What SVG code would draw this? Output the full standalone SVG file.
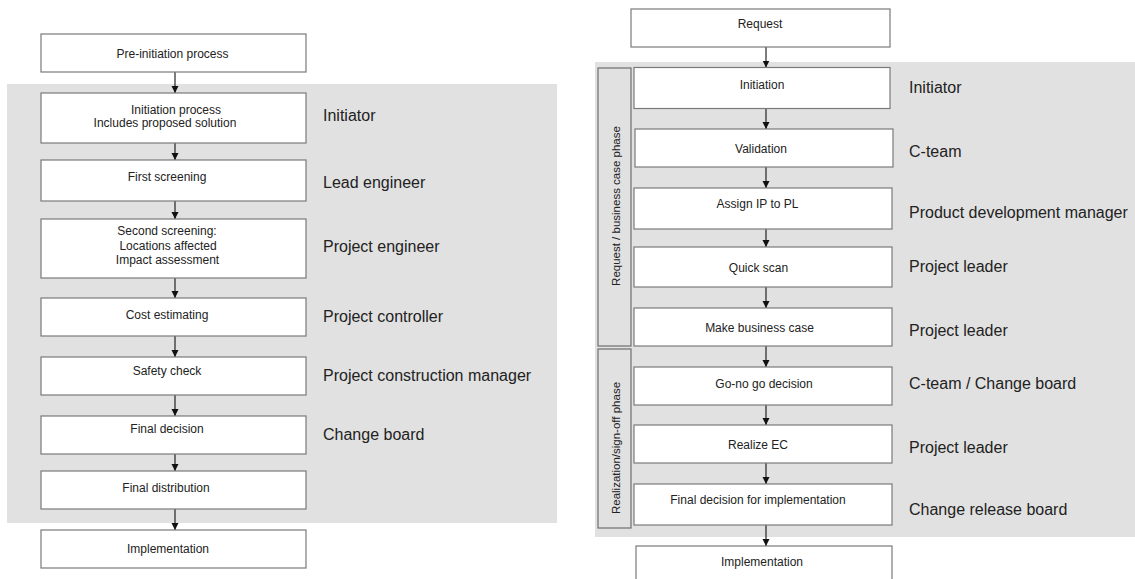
<svg xmlns="http://www.w3.org/2000/svg" width="1135" height="579" viewBox="0 0 1135 579">
<style>
.bg{fill:#e1e1e1;stroke:none}
.box{fill:#ffffff;stroke:#7a7a7a;stroke-width:1.2}
.phase{fill:#e1e1e1;stroke:#6e6e6e;stroke-width:1.2}
.t{font-family:"Liberation Sans",Arial,sans-serif;font-size:12px;fill:#222;text-anchor:middle}
.lbl{font-family:"Liberation Sans",Arial,sans-serif;font-size:16px;fill:#222}
.c{stroke:#111;stroke-width:1.1;fill:none;marker-end:url(#ah)}
</style>
<defs>
<marker id="ah" viewBox="0 0 8 8" refX="8" refY="4" markerWidth="7" markerHeight="8" orient="auto" markerUnits="userSpaceOnUse">
<path d="M0,0 L8,4 L0,8 z" fill="#111"/>
</marker>
</defs>
<rect class="bg" x="7" y="84" width="550" height="439"/>
<rect class="bg" x="595" y="62" width="540" height="475"/>

<g id="connectors">
<line class="c" x1="175" y1="72" x2="175" y2="93"/>
<line class="c" x1="175" y1="143" x2="175" y2="160"/>
<line class="c" x1="175" y1="201" x2="175" y2="219"/>
<line class="c" x1="175" y1="278" x2="175" y2="298"/>
<line class="c" x1="175" y1="336" x2="175" y2="357"/>
<line class="c" x1="175" y1="395" x2="175" y2="416"/>
<line class="c" x1="175" y1="454" x2="175" y2="471"/>
<line class="c" x1="175" y1="509" x2="175" y2="530"/>
<line class="c" x1="766" y1="47" x2="766" y2="67.5"/>
<line class="c" x1="766" y1="108.5" x2="766" y2="129"/>
<line class="c" x1="766" y1="167" x2="766" y2="188"/>
<line class="c" x1="766" y1="229" x2="766" y2="247"/>
<line class="c" x1="766" y1="287" x2="766" y2="308"/>
<line class="c" x1="766" y1="346" x2="766" y2="367"/>
<line class="c" x1="766" y1="405" x2="766" y2="425"/>
<line class="c" x1="766" y1="463" x2="766" y2="484"/>
<line class="c" x1="766" y1="525" x2="766" y2="546"/>
</g>

<!-- Left flow -->
<g id="l-pre"><rect class="box" x="41" y="34" width="265" height="38"/><text class="t" x="172.5" y="58.2">Pre-initiation process</text></g>
<g id="l-init"><rect class="box" x="41" y="93" width="265" height="50"/><text class="t" x="176" y="114.2">Initiation process</text><text class="t" x="165" y="127.2">Includes proposed solution</text></g>
<g id="l-first"><rect class="box" x="41" y="160" width="265" height="41"/><text class="t" x="167" y="181.2">First screening</text></g>
<g id="l-second"><rect class="box" x="41" y="219" width="265" height="59"/><text class="t" x="167" y="235.2">Second screening:</text><text class="t" x="168" y="250">Locations affected</text><text class="t" x="167.5" y="264.2">Impact assessment</text></g>
<g id="l-cost"><rect class="box" x="41" y="298" width="265" height="38"/><text class="t" x="167" y="319.2">Cost estimating</text></g>
<g id="l-safety"><rect class="box" x="41" y="357" width="265" height="38"/><text class="t" x="167" y="375.2">Safety check</text></g>
<g id="l-final"><rect class="box" x="41" y="416" width="265" height="38"/><text class="t" x="167" y="433.2">Final decision</text></g>
<g id="l-dist"><rect class="box" x="41" y="471" width="265" height="38"/><text class="t" x="166" y="492.2">Final distribution</text></g>
<g id="l-impl"><rect class="box" x="41" y="530" width="265" height="38"/><text class="t" x="168" y="552.7">Implementation</text></g>

<g id="l-roles">
<text class="lbl" x="323" y="120.5">Initiator</text>
<text class="lbl" x="323" y="187.6">Lead engineer</text>
<text class="lbl" x="323" y="252.3">Project engineer</text>
<text class="lbl" x="323" y="321.6">Project controller</text>
<text class="lbl" x="323" y="380.6">Project construction manager</text>
<text class="lbl" x="323" y="439.6">Change board</text>
</g>

<!-- Right flow -->
<g id="phase1"><rect class="phase" x="598" y="68" width="33" height="278"/><text class="t" transform="translate(620,206) rotate(-90)" x="0" y="0" style="font-size:11.5px">Request / business case phase</text></g>
<g id="phase2"><rect class="phase" x="598" y="349" width="33" height="179"/><text class="t" transform="translate(620,448) rotate(-90)" x="0" y="0" style="font-size:11.5px">Realization/sign-off phase</text></g>

<g id="r-request"><rect class="box" x="631" y="9" width="259" height="38"/><text class="t" x="760" y="28.2">Request</text></g>
<g id="r-init"><rect class="box" x="634" y="67.5" width="256" height="41"/><text class="t" x="762" y="89.2">Initiation</text></g>
<g id="r-valid"><rect class="box" x="635" y="129" width="258" height="38"/><text class="t" x="761" y="153.2">Validation</text></g>
<g id="r-assign"><rect class="box" x="634" y="188" width="258" height="41"/><text class="t" x="757.5" y="208.2">Assign IP to PL</text></g>
<g id="r-quick"><rect class="box" x="634" y="247" width="258" height="40"/><text class="t" x="758.5" y="272.2">Quick scan</text></g>
<g id="r-business"><rect class="box" x="634" y="308" width="258" height="38"/><text class="t" x="759.5" y="332.2">Make business case</text></g>
<g id="r-gonogo"><rect class="box" x="634" y="367" width="258" height="38"/><text class="t" x="764" y="388.2">Go-no go decision</text></g>
<g id="r-realize"><rect class="box" x="634" y="425" width="258" height="38"/><text class="t" x="758" y="449.2">Realize EC</text></g>
<g id="r-finaldec"><rect class="box" x="634" y="484" width="258" height="41"/><text class="t" x="758" y="504.2">Final decision for implementation</text></g>
<g id="r-impl"><rect class="box" x="636" y="546" width="256" height="40"/><text class="t" x="762" y="566.2">Implementation</text></g>

<g id="r-roles">
<text class="lbl" x="909" y="92.6">Initiator</text>
<text class="lbl" x="909" y="156.6">C-team</text>
<text class="lbl" x="909" y="217.6">Product development manager</text>
<text class="lbl" x="909" y="272.3">Project leader</text>
<text class="lbl" x="909" y="335.6">Project leader</text>
<text class="lbl" x="909" y="388.6">C-team / Change board</text>
<text class="lbl" x="909" y="452.6">Project leader</text>
<text class="lbl" x="909" y="514.6">Change release board</text>
</g>
</svg>
